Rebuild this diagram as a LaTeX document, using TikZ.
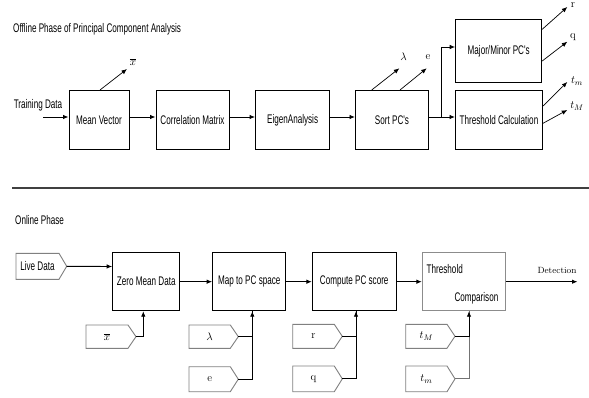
\documentclass[tikz,border=0pt]{standalone}
\usepackage{fontspec}
\newfontfamily\lab{Liberation Sans}[FakeStretch=0.65]
\usetikzlibrary{arrows.meta}
\tikzset{
  box/.style={draw=black, line width=1pt, fill=white, inner sep=0pt, font=\lab\fontsize{12.5}{14}\selectfont},
  gbox/.style={draw=black!45, line width=1pt, fill=white, inner sep=0pt},
  conn/.style={line width=0.9pt, -{Latex[length=5.5pt,width=4.5pt]}},
  plain/.style={line width=0.9pt},
  outarr/.style={line width=0.7pt, -{Latex[length=5.5pt,width=4.5pt]}},
  txt/.style={inner sep=0pt, font=\lab\fontsize{12.5}{14}\selectfont},
  mlab/.style={inner sep=0pt, font=\fontsize{11}{13}\selectfont},
  tagline/.style={draw=black!50, line width=0.9pt, fill=white},
}
\newcommand{\mytag}[6]{%
  \draw[tagline] (#2,#4) -- ({#3-8},#4) -- (#3,{(#4+#5)/2}) -- ({#3-8},#5) -- (#2,#5) -- cycle;
  \coordinate (#1) at (#3,{(#4+#5)/2});
  \node[mlab] (#1t) at ({(#2+#3-8)/2},{(#4+#5)/2}) {#6};
}
\begin{document}
\begin{tikzpicture}[x=1pt,y=-1pt]
\useasboundingbox (0,0) rectangle (589,398);
\fill[white] (0,0) rectangle (589,398);

% ---------- Offline phase ----------
\node[txt, anchor=west] (t1) at (13,29) {Offline Phase of Principal Component Analysis};
\node[txt] (td) at (38,105) {Training Data};
\coordinate (tdin) at (43,117);

\node[box, minimum width=60pt, minimum height=59pt] (MV) at (99,120) {Mean Vector};
\node[box, minimum width=73pt, minimum height=59pt] (CM) at (192.5,120) {Correlation Matrix};
\node[box, minimum width=74pt, minimum height=59pt] (EA) at (292.6,120) {EigenAnalysis};
\node[box, minimum width=73pt, minimum height=59pt] (SP) at (392,120) {Sort PC's};
\node[box, minimum width=87pt, minimum height=59pt] (TC) at (499,120) {Threshold Calculation};
\node[box, minimum width=86pt, minimum height=63.4pt] (MM) at (498.7,51) {Major/Minor PC's};

\draw[conn] (tdin) -- ([yshift=3pt]MV.west);
\draw[conn] ([yshift=3pt]MV.east) -- ([yshift=3pt]CM.west);
\draw[conn] ([yshift=3pt]CM.east) -- ([yshift=3pt]EA.west);
\draw[conn] ([yshift=3pt]EA.east) -- ([yshift=3pt]SP.west);
\draw[conn] ([yshift=3pt]SP.east) -- ([yshift=3pt]TC.west);
\coordinate (br) at (441.7,117);
\draw[conn] (br) |- ([yshift=4pt]MM.west);

% output arrows
\coordinate (xo) at (127,69);
\coordinate (lo) at (399.3,68.3);
\coordinate (eo) at (426.7,68.3);
\coordinate (ro) at (567.3,7);
\coordinate (qo) at (567.3,41.7);
\coordinate (tmo) at (567.3,82);
\coordinate (tMo) at (567.3,110);
\draw[outarr] ([xshift=1pt]MV.north) -- (xo);
\draw[outarr] ([xshift=-20.3pt]SP.north) -- (lo);
\draw[outarr] ([xshift=8pt]SP.north) -- (eo);
\draw[outarr] ([yshift=21.7pt]MM.east) -- (ro);
\draw[outarr] ([yshift=-10pt]MM.east) -- (qo);
\draw[outarr] ([yshift=14pt]TC.east) -- (tmo);
\draw[outarr] ([yshift=-3.3pt]TC.east) -- (tMo);
\node[mlab] (xl) at (133,62) {$\overline{x}$};
\node[mlab] (ll) at (403.5,57) {$\lambda$};
\node[mlab] (el) at (428,57) {e};
\node[mlab] (rl) at (573,5) {r};
\node[mlab] (ql) at (573,37) {q};
\node[mlab] (tml) at (577,81) {$t_m$};
\node[mlab] (tMl) at (577,106) {$t_M$};

% separator
\draw[line width=2pt, black!75] (12,188) -- (589,188);

% ---------- Online phase ----------
\node[txt, anchor=west] (t2) at (15,220) {Online Phase};

\draw[tagline] (16,253.3) -- (59,253.3) -- (66.7,266.3) -- (59,279.3) -- (16,279.3) -- cycle;
\coordinate (ld) at (66.7,266.3);
\node[txt] (ldt) at (37.5,266.3) {Live Data};

\node[box, minimum width=67.3pt, minimum height=58pt] (ZM) at (146.3,281.7) {Zero Mean Data};
\node[box, minimum width=73.3pt, minimum height=58pt] (MP) at (249.3,281.7) {Map to PC space};
\node[box, minimum width=83.7pt, minimum height=58pt] (CP) at (354.2,281.7) {Compute PC score};
\node[gbox, minimum width=82.7pt, minimum height=58pt] (TH) at (463.7,281.7) {};
\node[txt, anchor=west] (th1) at (426.5,269.5) {Threshold};
\node[txt, anchor=east] (th2) at (498.5,298) {Comparison};

\draw[conn] (ld) -- ([yshift=15.2pt]ZM.west);
\draw[conn] (ZM) -- (MP);
\draw[conn] (MP) -- (CP);
\draw[conn] (CP) -- (TH);
\coordinate (det) at (577.5,281.7);
\draw[conn] (TH) -- (det);
\node[inner sep=0pt, font=\fontsize{9}{11}\selectfont] (detl) at (557,270) {Detection};

\mytag{xb}{86}{136}{325}{348.3}{$\overline{x}$}
\mytag{lb}{189}{238.3}{325}{348.3}{$\lambda$}
\mytag{eb}{189}{238.3}{366.7}{391.7}{e}
\mytag{rb}{292.7}{342.3}{324.3}{348.3}{r}
\mytag{qb}{292.7}{342.3}{366}{391.7}{q}
\mytag{tMb}{405.7}{455}{324.3}{348.3}{$t_M$}
\mytag{tmb}{405.7}{455}{366}{391.7}{$t_m$}

\draw[conn] (xb) -| ([xshift=-3pt]ZM.south);
\draw[plain] (eb) -| ([xshift=3pt]MP.south);
\draw[conn] (lb) -| ([xshift=3pt]MP.south);
\draw[plain] (qb) -| ([xshift=1.8pt]CP.south);
\draw[conn] (rb) -| ([xshift=1.8pt]CP.south);
\draw[plain, black!55] (tmb) -| ([xshift=5.3pt]TH.south);
\draw[conn] (tMb) -| ([xshift=5.3pt]TH.south);
\end{tikzpicture}
\end{document}
